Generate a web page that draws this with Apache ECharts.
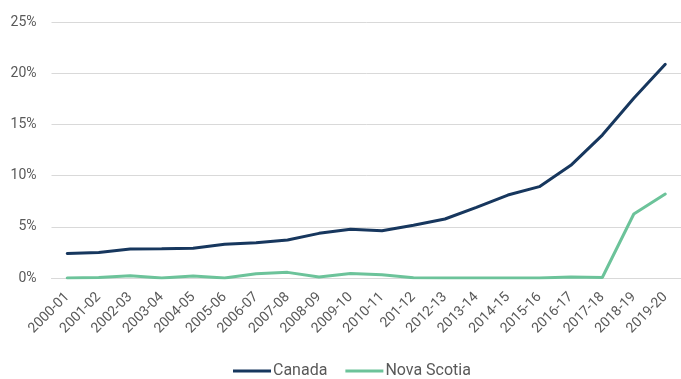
<!DOCTYPE html>
<html>
<head>
<meta charset="utf-8">
<script src="https://cdn.jsdelivr.net/npm/echarts@6/dist/echarts.min.js"></script>
<style>
  html, body { margin: 0; padding: 0; background: #fff; }
  #chart { width: 681px; height: 379px; }
</style>
</head>
<body>
<div id="chart"></div>
<script>
// fiscal years, as labelled in the source (incl. the "201-12" typo)
const years = ['2000-01', '2001-02', '2002-03', '2003-04', '2004-05', '2005-06', '2006-07',
  '2007-08', '2008-09', '2009-10', '2010-11', '201-12', '2012-13', '2013-14', '2014-15',
  '2015-16', '2016-17', '2017-18', '2018-19', '2019-20'];

const canada = [2.4, 2.5, 2.83, 2.86, 2.9, 3.29, 3.45, 3.71, 4.36, 4.75, 4.62, 5.15,
  5.76, 6.9, 8.1, 8.92, 11.0, 13.96, 17.55, 20.87];

const novaScotia = [0, 0.05, 0.23, 0, 0.2, 0, 0.42, 0.55, 0.1, 0.45, 0.32, 0.02,
  0, 0, 0, 0, 0.1, 0.05, 6.25, 8.2];

const yTicks = { min: 0, max: 25, step: 5 };

const COLORS = { canada: '#17375e', ns: '#6cc39a', text: '#595959', grid: '#d9d9d9' };

const chart = echarts.init(document.getElementById('chart'));
chart.setOption({
  animation: false,
  textStyle: { fontFamily: 'Roboto' },
  grid: { left: 51.5, right: -2.5, top: 22, bottom: 101 },
  legend: {
    top: 363,
    left: 233,
    padding: 0,
    itemWidth: 38,
    itemHeight: 3,
    itemGap: 18,
    icon: 'rect',
    textStyle: { color: COLORS.text, fontSize: 16, fontFamily: 'Roboto', padding: [0, 0, 0, -3] },
    data: ['Canada', 'Nova Scotia'],
  },
  xAxis: {
    type: 'category',
    data: years,
    boundaryGap: true,
    axisLine: { lineStyle: { color: COLORS.grid } },
    axisTick: { show: false },
    axisLabel: { color: COLORS.text, fontSize: 14, rotate: 45, interval: 0, margin: 17 },
  },
  yAxis: {
    type: 'value',
    min: yTicks.min,
    max: yTicks.max,
    interval: yTicks.step,
    axisLine: { show: false },
    axisTick: { show: false },
    axisLabel: { color: COLORS.text, fontSize: 14, formatter: '{value}%', margin: 15 },
    splitLine: { lineStyle: { color: COLORS.grid, width: 1 } },
  },
  series: [
    {
      name: 'Canada',
      type: 'line',
      data: canada,
      symbol: 'none',
      lineStyle: { width: 3, color: COLORS.canada, cap: 'round' },
      itemStyle: { color: COLORS.canada },
    },
    {
      name: 'Nova Scotia',
      type: 'line',
      data: novaScotia,
      symbol: 'none',
      lineStyle: { width: 3, color: COLORS.ns, cap: 'round' },
      itemStyle: { color: COLORS.ns },
    },
  ],
});
</script>
</body>
</html>
